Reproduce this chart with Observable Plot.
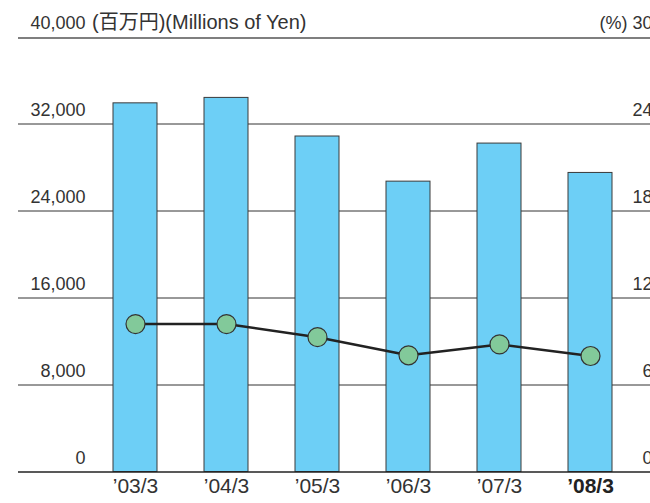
<!DOCTYPE html>
<html>
<head>
<meta charset="utf-8">
<script src="https://cdn.jsdelivr.net/npm/d3@7"></script>
<script src="https://cdn.jsdelivr.net/npm/@observablehq/plot@0.6"></script>
<style>
  html, body { margin: 0; padding: 0; background: #fff; }
  #chart svg { display: block; font-family: "Liberation Sans", Arial, "Noto Sans CJK JP", sans-serif; }
</style>
</head>
<body>
<div id="chart"></div>
<script>
const years = ["’03/3", "’04/3", "’05/3", "’06/3", "’07/3", "’08/3"];
const sales = [33900, 34400, 30850, 26700, 30200, 27500];   // Millions of Yen (left axis)
const ratio = [10.2, 10.2, 9.3, 8.05, 8.8, 8.0];           // % (right axis)
const leftTicks = [0, 8000, 16000, 24000, 32000, 40000];
const leftTickLabels = ["0", "8,000", "16,000", "24,000", "32,000", "40,000"];
const rightTicks = [0, 6, 12, 18, 24, 30];
const rightTickLabels = ["0", "6", "12", "18", "24", "(%) 30"];
const unitLabel = "(百万円)(Millions of Yen)";
const highlightYear = "’08/3";

const leftMax = 40000, rightMax = 30;
const toLeft = v => v * leftMax / rightMax;

const data = years.map((year, i) => ({year, sales: sales[i], ratio: ratio[i]}));
const leftTickData = leftTicks.map((v, i) => ({v, label: leftTickLabels[i]}));
const rightTickData = rightTicks.map((v, i) => ({v, label: rightTickLabels[i]}));

const chart = Plot.plot({
  width: 650,
  height: 503,
  marginLeft: 18,
  marginRight: 0,
  marginTop: 36.5,
  marginBottom: 31.5,
  style: {fontFamily: "'Liberation Sans', Arial, 'Noto Sans CJK JP', sans-serif", color: "#333"},
  x: {domain: years, range: [64.5, 660.5], padding: 0.52, axis: null},
  y: {domain: [0, leftMax], axis: null},
  marks: [
    Plot.ruleY(leftTicks.filter(v => v > 0 && v < leftMax), {stroke: "#333", strokeWidth: 1}),
    Plot.ruleY([leftMax], {stroke: "#555", strokeWidth: 1.5, dy: 1}),
    Plot.barY(data, {x: "year", y: "sales", fill: "#6dcff6", stroke: "#3a3a3a", strokeWidth: 1}),
    Plot.ruleY([0], {stroke: "#222", strokeWidth: 1.5}),
    Plot.line(data, {x: "year", y: d => toLeft(d.ratio), stroke: "#222", strokeWidth: 2.5}),
    Plot.dot(data, {x: "year", y: d => toLeft(d.ratio), r: 9.5, fill: "#82c99a", stroke: "#333", strokeWidth: 1.2}),
    Plot.text(leftTickData, {y: "v", text: "label", frameAnchor: "left", dx: 67, dy: -14, textAnchor: "end", fontSize: 18, fill: "#333"}),
    Plot.text([unitLabel], {y: [leftMax], text: d => d, frameAnchor: "left", dx: 73.5, dy: -14, textAnchor: "start", fontSize: 20, fill: "#333"}),
    Plot.text(rightTickData, {y: d => toLeft(d.v), text: "label", frameAnchor: "right", dx: 2, dy: -14, textAnchor: "end", fontSize: 18, fill: "#333"}),
    Plot.text(data.filter(d => d.year !== highlightYear), {x: "year", text: "year", frameAnchor: "bottom", dy: 21, fontSize: 21, fill: "#333"}),
    Plot.text(data.filter(d => d.year === highlightYear), {x: "year", text: "year", frameAnchor: "bottom", dy: 21, fontSize: 21, fill: "#222", fontWeight: "bold"})
  ]
});
document.getElementById("chart").append(chart);
</script>
</body>
</html>
